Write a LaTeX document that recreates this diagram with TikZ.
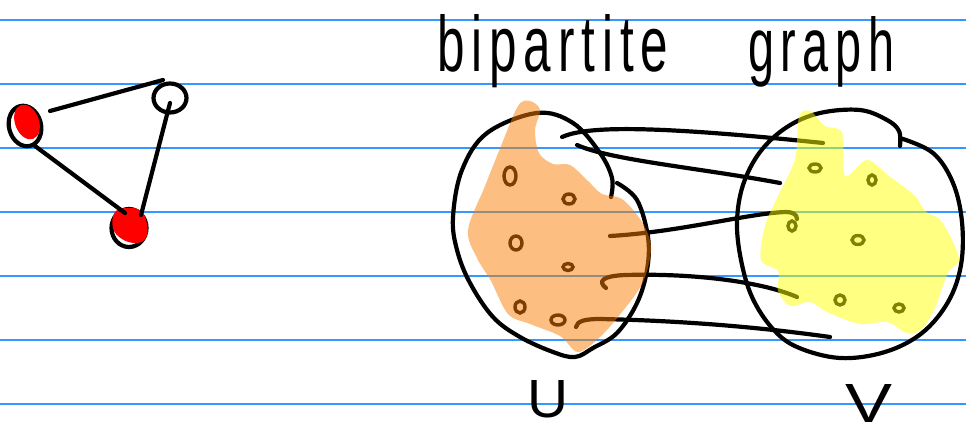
\documentclass[tikz,border=0pt]{standalone}
\usepackage{fontspec}
\setmainfont{Liberation Sans}
\usetikzlibrary{shapes.geometric}
\definecolor{rulecol}{RGB}{51,153,255}
\definecolor{hlorange}{RGB}{251,125,5}
\definecolor{hlyellow}{RGB}{255,255,5}
\begin{document}
\begin{tikzpicture}[x=1pt,y=-1pt,
  ruled/.style={draw=rulecol,line width=1.3pt},
  ink/.style={draw=black,line width=4.2pt,line cap=round,line join=round},
  vmark/.style={draw=black,line width=3.4pt},
  vtx/.style={ellipse,draw=black,line width=4.2pt,inner sep=0pt},
  hl/.style={fill opacity=0.5},
  word/.style={inner sep=0pt,anchor=base west,font=\addfontfeatures{LetterSpace=14}},
  letter/.style={inner sep=0pt,anchor=base west}]
\useasboundingbox (0,0) rectangle (966,433);
% ruled paper
\foreach \yy in {20,84,148,212,276,340,404}
  \draw[ruled] (0,\yy) -- (966,\yy);

% ---------- small triangle graph ----------
\node[vtx,minimum width=32pt,minimum height=41pt,rotate=15] (L) at (25,126) {};
\node[vtx,minimum width=33pt,minimum height=29pt] (T) at (170,98) {};
\node[vtx,minimum width=35pt,minimum height=38pt] (B) at (129,228) {};
\fill[red,rotate around={20:(27,122)}] (27,122) ellipse (12 and 18);
\fill[red] plot[smooth cycle,tension=0.7] coordinates
  {(115,212) (128,208) (141,211) (147,224) (146,238) (136,243) (122,239) (113,228)};
\coordinate (l1) at (50,111);
\coordinate (t1) at (163,80);
\coordinate (l2) at (35,146);
\coordinate (b1) at (125,213);
\coordinate (t2) at (170,103);
\coordinate (b2) at (141,215);
\draw[ink] (l1) -- (t1);
\draw[ink] (l2) -- (b1);
\draw[ink] (t2) -- (b2);

% ---------- bipartite graph ----------
% U outline
\draw[ink] plot[smooth,tension=0.6] coordinates
  {(611,197) (612,178) (600,153) (573,123) (537,113) (487,133) (462,170) (453,217)
   (457,250) (470,283) (493,317) (520,337) (553,352) (575,357) (593,348) (617,333)
   (637,303) (647,270) (648,237) (637,200) (617,183)};
% V outline
\draw[ink] plot[smooth,tension=0.6] coordinates
  {(900,146) (899,131) (887,120) (860,110) (820,113) (787,127) (760,152) (743,185)
   (737,222) (741,260) (752,297) (772,328) (797,347) (840,358) (885,352) (922,333)
   (948,302) (961,265) (962,222) (953,183) (933,153) (900,138)};

% little vertex marks in U
\draw[vmark] (510,176) ellipse (6 and 9);
\draw[vmark] (569,199) ellipse (6 and 5);
\draw[vmark] (516,243) ellipse (6 and 7);
\draw[vmark] (568,267) ellipse (5 and 3.5);
\draw[vmark] (520,307) ellipse (5 and 6);
\draw[vmark] (558,320) ellipse (7 and 5);
% little vertex marks in V
\draw[vmark] (815,168) ellipse (6 and 4);
\draw[vmark] (872,180) ellipse (4 and 5);
\draw[vmark] (792,226) ellipse (4 and 5);
\draw[vmark] (858,240) ellipse (6 and 4.5);
\draw[vmark] (840,300) ellipse (5 and 5);
\draw[vmark] (899,308) ellipse (5 and 4);

% edges between U and V
\coordinate (u1) at (562,137);
\coordinate (v1) at (823,143);
\coordinate (u2) at (577,145);
\coordinate (v2) at (780,183);
\coordinate (u3) at (610,236);
\coordinate (v3) at (797,219);
\coordinate (u4) at (606,288);
\coordinate (v4) at (797,297);
\coordinate (u5) at (576,327);
\coordinate (v5) at (830,337);
\draw[ink] (u1) .. controls (585,127) and (640,124) .. (v1);
\draw[ink] (u2) .. controls (610,160) and (700,168) .. (v2);
\draw[ink] (u3) .. controls (680,232) and (750,213) .. (786,212)
  .. controls (792,212) and (797,214) .. (v3);
\draw[ink] (u4) .. controls (597,281) and (603,276) .. (625,275)
  .. controls (700,273) and (765,283) .. (v4);
\draw[ink] (u5) .. controls (577,321) and (585,319) .. (600,319)
  .. controls (700,321) and (780,330) .. (v5);

% highlighter fills (drawn on top)
\fill[hlorange,hl] plot[smooth cycle,tension=0.55] coordinates
  {(518,106) (530,101) (540,110) (535,130) (539,153) (553,164) (570,165)
   (588,181) (602,194) (622,199) (642,222) (651,248) (643,282) (622,312)
   (600,337) (578,352) (560,336) (530,324) (508,314) (491,281) (477,258)
   (468,230) (485,186) (501,146)};
\fill[hlyellow,hl] plot[smooth cycle,tension=0.55] coordinates
  {(799,117) (810,111) (825,126) (842,133) (845,176) (867,160) (889,176)
   (915,196) (925,211) (942,222) (959,258) (949,271) (942,288) (935,308)
   (922,329) (907,333) (887,322) (860,324) (827,312) (810,302) (790,306)
   (778,291) (778,271) (761,260) (765,226) (778,196) (795,159)};

% ---------- labels ----------
\node[word] (title1) at (437,72) {\resizebox{231pt}{57pt}{bipartite}};
\node[word] (title2) at (748,72) {\resizebox{146pt}{55pt}{graph}};
\node[letter] (lu) at (527,417) {\resizebox{41pt}{37pt}{U}};
\node[letter] (lv) at (845,422) {\resizebox{47pt}{38pt}{V}};
\end{tikzpicture}
\end{document}
